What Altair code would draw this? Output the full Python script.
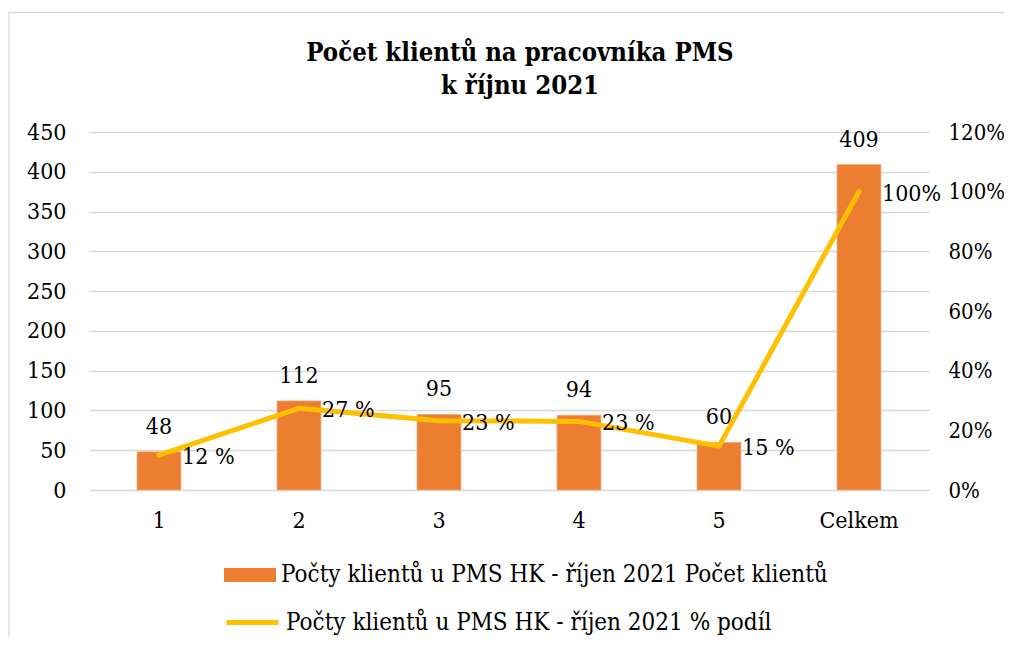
import altair as alt
import pandas as pd

categories = ["1", "2", "3", "4", "5", "Celkem"]
clients = [48, 112, 95, 94, 60, 409]
share = [0.117, 0.274, 0.232, 0.230, 0.147, 1.0]
share_labels = ["12 %", "27 %", "23 %", "23 %", "15 %", "100%"]
bar_series = "Počty klientů u PMS HK - říjen 2021 Počet klientů"
line_series = "Počty klientů u PMS HK - říjen 2021 % podíl"
title_lines = ["Počet klientů na pracovníka PMS", "k říjnu 2021"]

df = pd.DataFrame({
    "cat": categories,
    "clients": clients,
    "share": share,
    "share_label": share_labels,
    "bar_series": [bar_series] * len(categories),
    "line_series": [line_series] * len(categories),
})

FONT = "DejaVu Serif Condensed"
W, H = 840, 358

x = alt.X("cat:N", sort=None, title=None,
          scale=alt.Scale(paddingInner=0.686, paddingOuter=0.343),
          axis=alt.Axis(labelAngle=0, labelFont=FONT, labelFontSize=23, labelColor="#000",
                        labelPadding=19, ticks=False, domain=False, grid=False))

y_left = alt.Y("clients:Q", title=None,
               scale=alt.Scale(domain=[0, 450], nice=False),
               axis=alt.Axis(orient="left", values=list(range(0, 451, 50)), labelFont=FONT,
                             labelFontSize=23, labelColor="#000", labelPadding=23, ticks=False,
                             labelOverlap=False, domain=False, grid=True, gridColor="#d9d9d9",
                             gridWidth=1.3))

y_right = alt.Y("share:Q", title=None,
                scale=alt.Scale(domain=[0, 1.2], nice=False),
                axis=alt.Axis(orient="right", values=[0, 0.2, 0.4, 0.6, 0.8, 1.0, 1.2], format=".0%",
                              labelFont=FONT, labelFontSize=22, labelColor="#000", labelPadding=19,
                              labelOverlap=False, ticks=False, domain=False, grid=False))

base = alt.Chart(df)

bars = base.mark_bar(color="#ED7D31", stroke="#F4B183", strokeWidth=0.8).encode(
    x=x,
    y=y_left,
    color=alt.Color("bar_series:N", scale=alt.Scale(range=["#ED7D31"]),
                    legend=alt.Legend(title=None, orient="none", legendX=135, legendY=417,
                                      symbolType="M-1,-0.27H1V0.27H-1Z", symbolSize=2704,
                                      symbolStrokeWidth=0, labelFont=FONT, labelFontSize=24,
                                      labelColor="#000", labelOffset=5, padding=0,
                                      labelLimit=800)),
)

bar_text = base.mark_text(font=FONT, fontSize=23, color="#000", baseline="alphabetic", dy=-18).encode(
    x=x,
    y=y_left,
    text=alt.Text("clients:Q"),
)

line = base.mark_line(strokeWidth=5, strokeCap="round", strokeJoin="round").encode(
    x=x,
    y=y_right,
    color=alt.Color("line_series:N", scale=alt.Scale(range=["#FFC000"]),
                    legend=alt.Legend(title=None, orient="none", legendX=135, legendY=462,
                                      symbolType="stroke", symbolSize=2704, symbolStrokeWidth=5,
                                      labelFont=FONT, labelFontSize=24, labelColor="#000",
                                      labelOffset=5, padding=0, labelLimit=800)),
)

line_text = base.mark_text(font=FONT, fontSize=23, color="#000", align="left", baseline="middle",
                           dx=23, dy=2).encode(
    x=x,
    y=y_right,
    text="share_label:N",
)

frame = alt.Chart(alt.Data(values=[{}])).mark_rect(
    fill="transparent", stroke="#d9d9d9", strokeWidth=1.3
).encode(
    x=alt.value(-80), x2=alt.value(W + 200),
    y=alt.value(-119.5), y2=alt.value(H + 300),
)

left = alt.layer(bars, bar_text)
right = alt.layer(line, line_text)

chart = alt.layer(frame, left, right).resolve_scale(
    y="independent", color="independent"
).properties(
    width=W, height=H,
    title=alt.Title(title_lines, font=FONT, fontSize=25.5, fontWeight="bold", color="#000",
                    lineHeight=33, anchor="middle", frame="group", dx=11, offset=-88),
    autosize=alt.AutoSizeParams(type="none"),
    padding={"left": 81, "top": 124, "right": 75, "bottom": 147},
).configure(background="white", view=alt.ViewConfig(strokeWidth=0))

chart.save("out.html", embed_options={"renderer": "svg", "actions": False})
